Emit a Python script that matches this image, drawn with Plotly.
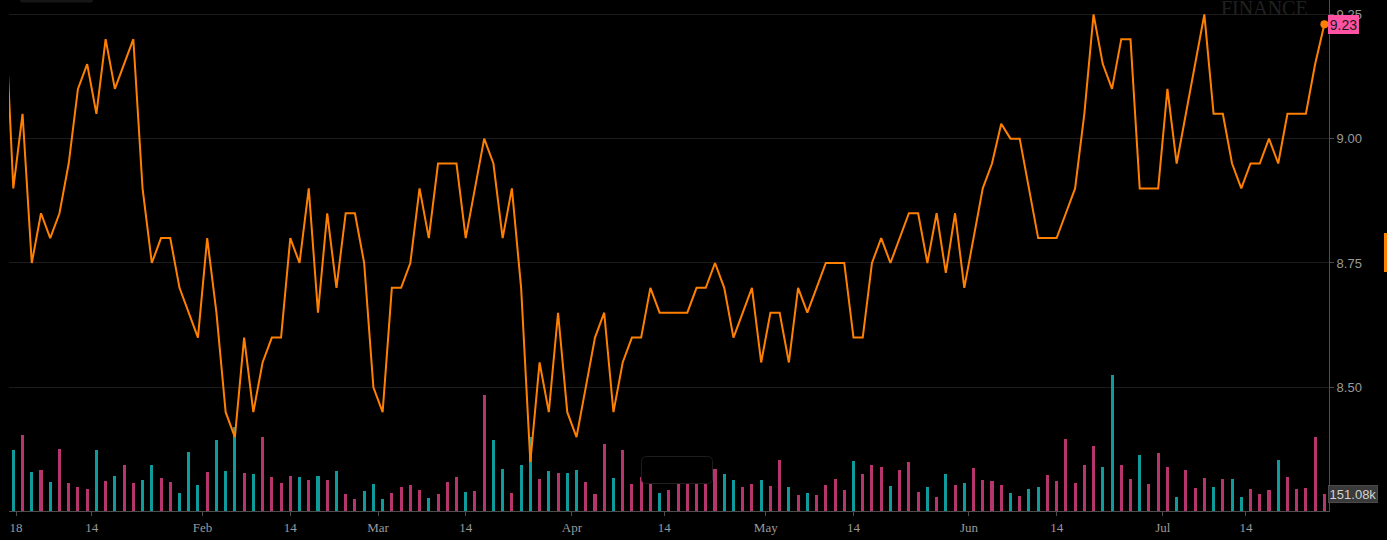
import numpy as np
import pandas as pd
import plotly.graph_objects as go

# ---------------- data ----------------
holidays = ["2018-01-01", "2018-01-15", "2018-02-19", "2018-03-30", "2018-05-28", "2018-07-04"]
dates = pd.bdate_range("2017-12-29", "2018-07-26", freq="C", holidays=holidays)
date_labels = [d.strftime("%Y-%m-%d") for d in dates]

price = [
    9.30, 8.90, 9.05, 8.75, 8.85, 8.80, 8.85, 8.95, 9.10, 9.15, 9.05, 9.20, 9.10, 9.15, 9.20,
    8.90, 8.75, 8.80, 8.80, 8.70, 8.65, 8.60, 8.80, 8.65, 8.45, 8.40, 8.60, 8.45, 8.55,
    8.60, 8.60, 8.80, 8.75, 8.90, 8.65, 8.85, 8.70, 8.85, 8.85, 8.75, 8.50, 8.45, 8.70, 8.70,
    8.75, 8.90, 8.80, 8.95, 8.95, 8.95, 8.80, 8.90, 9.00, 8.95, 8.80, 8.90, 8.70, 8.35,
    8.55, 8.45, 8.65, 8.45, 8.40, 8.50, 8.60, 8.65, 8.45, 8.55, 8.60, 8.60, 8.70, 8.65, 8.65,
    8.65, 8.65, 8.70, 8.70, 8.75, 8.70, 8.60, 8.65, 8.70, 8.55, 8.65, 8.65, 8.55, 8.70,
    8.65, 8.70, 8.75, 8.75, 8.75, 8.60, 8.60, 8.75, 8.80, 8.75, 8.80, 8.85, 8.85, 8.75,
    8.85, 8.73, 8.85, 8.70, 8.80, 8.90, 8.95, 9.03, 9.00, 9.00, 8.90, 8.80, 8.80, 8.80,
    8.85, 8.90, 9.05, 9.25, 9.15, 9.10, 9.20, 9.20, 8.90, 8.90, 8.90, 9.10, 8.95, 9.05, 9.15,
    9.25, 9.05, 9.05, 8.95, 8.90, 8.95, 8.95, 9.00, 8.95, 9.05, 9.05, 9.05, 9.15, 9.23,
]

volume_k = [
    300,
    542, 675, 347, 364, 258, 551, 249, 213, 196, 542, 267, 311, 409, 249, 275, 409, 293, 258,
    160, 524, 231, 347, 631, 355, 746, 338, 329, 658,
    302, 249, 311, 302, 275, 311, 275, 355, 151, 107, 178, 240, 107, 160, 213, 231, 187, 116,
    151, 258, 302, 169, 178, 1031, 631, 373, 160, 409, 658,
    284, 355, 338, 338, 364, 258, 151, 595, 293, 542, 240, 302, 249, 160, 187, 240, 240, 249,
    249, 373, 329, 275, 213, 240, 275, 222, 453, 213, 142,
    160, 142, 231, 284, 187, 444, 329, 409, 391, 222, 364, 435, 169, 213, 124, 329, 231, 249,
    382, 275, 267, 231, 160, 133, 196, 213, 320, 267, 640,
    249, 409, 578, 391, 1209, 409, 284, 498, 240, 515, 391, 124, 364, 204, 293, 213, 284, 284,
    124, 196, 151, 187, 453, 302, 196, 204, 658, 151.08,
]

# t = teal bar, p = pink bar
volume_side = list(
    "p"
    "tptptppppt" "ptppttpptt" "tptttptppp" "ptptptpptt" "tpppptpppt"
    "ppttpttptp" "ttppptpppp" "tppppppttp" "ptpptptppp" "ptppptpppt"
    "ptptpppptp" "ttpppppptt" "pptppptppp" "tpttppptpp" "ppp"
)

tick_dates = ["2018-01-01", "2018-01-14", "2018-02-01", "2018-02-14", "2018-03-01", "2018-03-14",
              "2018-04-01", "2018-04-14", "2018-05-01", "2018-05-14", "2018-06-01", "2018-06-14",
              "2018-07-01", "2018-07-14"]
tick_text = ["18", "14", "Feb", "14", "Mar", "14", "Apr", "14", "May", "14", "Jun", "14", "Jul", "14"]

# ---------------- positions on a trading-day axis ----------------
xpos = np.arange(len(date_labels))
x_range = [0.534, 143.5]

def tick_position(d):
    ts = pd.Timestamp(d)
    if ts.day != 1 and d in date_labels:
        return float(date_labels.index(d))
    later = [i for i, s in enumerate(date_labels) if s >= d]
    return later[0] - 0.5

tick_pos = [tick_position(d) for d in tick_dates]
tick_pos[0] = max(tick_pos[0], x_range[0] + 0.77)  # year label kept inside the plot

TEAL = "#0f9b9b"
PINK = "#b5356c"
ORANGE = "#ff8000"
bar_colors = [TEAL if s == "t" else PINK for s in volume_side]

fig = go.Figure()
fig.add_trace(go.Bar(
    x=xpos, y=volume_k, marker=dict(color=bar_colors, line=dict(width=0)),
    width=0.33, yaxis="y", showlegend=False, hoverinfo="skip",
))
fig.add_trace(go.Scatter(
    x=xpos, y=price, mode="lines", yaxis="y2",
    line=dict(color=ORANGE, width=2), showlegend=False, hoverinfo="skip",
))
fig.add_trace(go.Scatter(
    x=[xpos[-1]], y=[price[-1]], mode="markers", yaxis="y2",
    marker=dict(color=ORANGE, size=8), showlegend=False, hoverinfo="skip",
))

W, H = 1387, 540
ML, MR, MT, MB = 9, 58, 0, 29
PW, PH = W - ML - MR, H - MT - MB

def px_to_paper(px, py):
    return (px - ML) / PW, 1 - (py - MT) / PH

def rounded_rect(x0, y0, x1, y1, r):
    a0, b0 = px_to_paper(x0, y0)
    a1, b1 = px_to_paper(x1, y1)
    rx = r / PW
    ry = r / PH
    return (f"M {a0+rx},{b0} L {a1-rx},{b0} Q {a1},{b0} {a1},{b0-ry} "
            f"L {a1},{b1+ry} Q {a1},{b1} {a1-rx},{b1} L {a0+rx},{b1} "
            f"Q {a0},{b1} {a0},{b1+ry} L {a0},{b0-ry} Q {a0},{b0} {a0+rx},{b0} Z")

shapes = [
    # dark tooltip-like box in the volume area
    dict(type="path", xref="paper", yref="paper", path=rounded_rect(641.5, 456.5, 712.5, 483.5, 5),
         fillcolor="#000000", line=dict(color="#1d1d1d", width=1), layer="above"),
    # faint element at the top-left edge
    dict(type="path", xref="paper", yref="paper", path=rounded_rect(20, -3, 93, 2.5, 2),
         fillcolor="#161616", line=dict(width=0), layer="above"),
    # orange marker at the right edge
    dict(type="rect", xref="paper", yref="paper",
         x0=px_to_paper(1384, 0)[0], x1=px_to_paper(1390, 0)[0],
         y0=px_to_paper(0, 272)[1], y1=px_to_paper(0, 233)[1],
         fillcolor=ORANGE, line=dict(width=0), layer="above"),
]

annotations = [
    dict(text="FINANCE", xref="paper", yref="paper",
         x=px_to_paper(1264, 0)[0], y=px_to_paper(0, 8.5)[1],
         xanchor="center", yanchor="middle", showarrow=False,
         font=dict(family="Liberation Serif", size=20, color="#212121")),
    dict(text=f"{price[-1]:.2f}", xref="paper", yref="y2", x=1, y=price[-1],
         xanchor="left", yanchor="middle", xshift=-1, showarrow=False,
         width=29, height=17, bgcolor="#ff52a2", bordercolor="#ff52a2", borderwidth=1, borderpad=0,
         font=dict(family="Liberation Sans", size=14, color="#1a1a1a")),
    dict(text=f"{volume_k[-1]:.2f}k", xref="paper", yref="y", x=1, y=volume_k[-1],
         xanchor="left", yanchor="middle", xshift=-1, showarrow=False,
         width=48, height=16, bgcolor="#3a3a3a", bordercolor="#4a4a4a", borderwidth=1, borderpad=0,
         font=dict(family="Liberation Sans", size=13, color="#d2d2d2")),
]

fig.update_layout(
    width=W, height=H,
    margin=dict(l=ML, r=MR, t=MT, b=MB, pad=0),
    paper_bgcolor="#000000", plot_bgcolor="#000000",
    bargap=0,
    xaxis=dict(
        range=x_range, tickmode="array", tickvals=tick_pos, ticktext=tick_text,
        showgrid=False, zeroline=False, showline=True, linecolor="#4d4d4d", linewidth=1,
        ticks="outside", ticklen=4, tickcolor="#4d4d4d",
        tickfont=dict(family="Liberation Serif", size=13, color="#9a9a9a"),
    ),
    yaxis=dict(range=[0, 4541], visible=False, showgrid=False, zeroline=False),
    yaxis2=dict(
        overlaying="y", side="right", range=[8.2513, 9.2788],
        tickmode="array", tickvals=[8.50, 8.75, 9.00, 9.25],
        ticktext=["8.50", "8.75", "9.00", "9.25"],
        showgrid=True, gridcolor="#1c1c1c", gridwidth=1, zeroline=False,
        showline=True, linecolor="#4d4d4d", linewidth=1,
        ticks="outside", ticklen=4, tickcolor="#4d4d4d",
        tickfont=dict(family="Liberation Sans", size=13, color="#9a9a9a"),
    ),
    shapes=shapes,
    annotations=annotations,
)

fig.write_html("out.html", config={"displayModeBar": False},
               post_script="document.body.style.margin='0';")
